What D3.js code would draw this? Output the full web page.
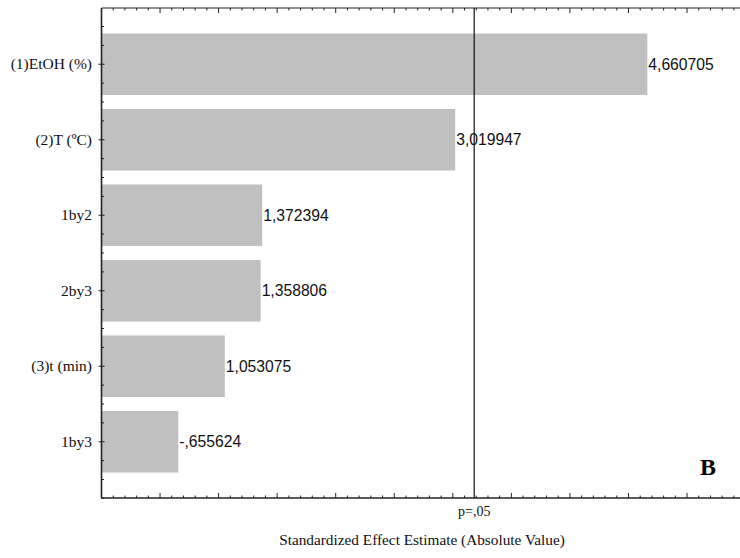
<!DOCTYPE html>
<html>
<head>
<meta charset="utf-8">
<script src="https://cdn.jsdelivr.net/npm/d3@7"></script>
<style>
  html, body { margin: 0; padding: 0; background: #fff; }
  svg { display: block; }
</style>
</head>
<body>
<svg id="chart" width="740" height="558"></svg>
<script>
// ---- data ----
const categories = ["(1)EtOH (%)", "(2)T (\u00BAC)", "1by2", "2by3", "(3)t (min)", "1by3"];
const effects = [4.660705, 3.019947, 1.372394, 1.358806, 1.053075, 0.655624];
const effectLabels = ["4,660705", "3,019947", "1,372394", "1,358806", "1,053075", "-,655624"];
const pCritical = 3.182446;
const pLabel = "p=,05";
const xTitle = "Standardized Effect Estimate (Absolute Value)";
const panelLetter = "B";

// ---- layout ----
const svg = d3.select("#chart");
const plotLeft = 101.5, plotTop = 8, plotBottom = 498;

const x = d3.scaleLinear().domain([0, 5.5]).range([plotLeft, 745.6]);
const y = d3.scaleBand().domain(categories).range([26.5, 479.5])
  .paddingInner(0.185).paddingOuter(0.0925);

// bars
svg.append("g").selectAll("rect").data(categories).join("rect")
  .attr("x", x(0))
  .attr("y", d => y(d))
  .attr("width", (d, i) => x(effects[i]) - x(0))
  .attr("height", y.bandwidth())
  .attr("fill", "#c0c0c0");

// value labels
svg.append("g").selectAll("text").data(categories).join("text")
  .attr("x", (d, i) => x(effects[i]) + 1)
  .attr("y", d => y(d) + y.bandwidth() / 2 + 5.5)
  .attr("font-family", "Liberation Sans, Arial, sans-serif")
  .attr("font-size", 15.7)
  .attr("fill", "#111")
  .text((d, i) => effectLabels[i]);

// frame lines
const axisColor = "#222";
svg.append("line").attr("x1", plotLeft).attr("x2", 740).attr("y1", plotTop).attr("y2", plotTop)
  .attr("stroke", axisColor).attr("stroke-width", 1.2);
svg.append("line").attr("x1", plotLeft).attr("x2", 740).attr("y1", plotBottom).attr("y2", plotBottom)
  .attr("stroke", axisColor).attr("stroke-width", 1.6);
svg.append("line").attr("x1", plotLeft).attr("x2", plotLeft).attr("y1", plotTop).attr("y2", plotBottom)
  .attr("stroke", axisColor).attr("stroke-width", 1.6);

// x ticks (inside, bottom and top)
const majorX = d3.range(0, 5.51, 0.5);
const minorX = d3.range(0, 5.51, 0.1).filter(v => Math.abs(v * 2 - Math.round(v * 2)) > 1e-6);
const tg = svg.append("g").attr("stroke", axisColor).attr("stroke-width", 1);
tg.selectAll(".mb").data(majorX).join("line")
  .attr("x1", d => x(d)).attr("x2", d => x(d)).attr("y1", plotBottom).attr("y2", plotBottom - 5);
tg.selectAll(".nb").data(minorX).join("line")
  .attr("x1", d => x(d)).attr("x2", d => x(d)).attr("y1", plotBottom).attr("y2", plotBottom - 2.5);
tg.selectAll(".mt").data(majorX).join("line")
  .attr("x1", d => x(d)).attr("x2", d => x(d)).attr("y1", plotTop).attr("y2", plotTop + 5);
tg.selectAll(".nt").data(minorX).join("line")
  .attr("x1", d => x(d)).attr("x2", d => x(d)).attr("y1", plotTop).attr("y2", plotTop + 2.5);

// y ticks
const step = y.step();
const yMajor = categories.map(c => y(c) + y.bandwidth() / 2);
const yMinor = [];
yMajor.forEach(c => { [-2, -1, 1].forEach(k => yMinor.push(c + k * step / 4)); });
yMinor.push(yMajor[yMajor.length - 1] + 2 * step / 4);
yMinor.push(yMajor[yMajor.length - 1] + 3 * step / 4);
tg.selectAll(".my").data(yMajor).join("line")
  .attr("x1", plotLeft - 3).attr("x2", plotLeft + 3).attr("y1", d => d).attr("y2", d => d);
tg.selectAll(".ny").data(yMinor).join("line")
  .attr("x1", plotLeft).attr("x2", plotLeft + 2.5).attr("y1", d => d).attr("y2", d => d);

// category labels
svg.append("g").selectAll("text").data(categories).join("text")
  .attr("x", 92)
  .attr("y", d => y(d) + y.bandwidth() / 2 + 5)
  .attr("text-anchor", "end")
  .attr("font-family", "Liberation Serif, Times New Roman, serif")
  .attr("font-size", 15.5)
  .attr("fill", "#111")
  .text(d => d);

// p = .05 line
svg.append("line")
  .attr("x1", x(pCritical)).attr("x2", x(pCritical))
  .attr("y1", plotTop).attr("y2", plotBottom)
  .attr("stroke", "#111").attr("stroke-width", 1.2);
svg.append("text")
  .attr("x", x(pCritical)).attr("y", 516)
  .attr("text-anchor", "middle")
  .attr("font-family", "Liberation Serif, Times New Roman, serif")
  .attr("font-size", 14).attr("fill", "#111")
  .text(pLabel);

// axis title
svg.append("text")
  .attr("x", 422).attr("y", 545)
  .attr("text-anchor", "middle")
  .attr("font-family", "Liberation Serif, Times New Roman, serif")
  .attr("font-size", 15.3).attr("fill", "#111")
  .text(xTitle);

// panel letter
svg.append("text")
  .attr("x", 708).attr("y", 475)
  .attr("text-anchor", "middle")
  .attr("font-family", "Liberation Serif, Times New Roman, serif")
  .attr("font-weight", "bold")
  .attr("font-size", 24).attr("fill", "#000")
  .text(panelLetter);
</script>
</body>
</html>
